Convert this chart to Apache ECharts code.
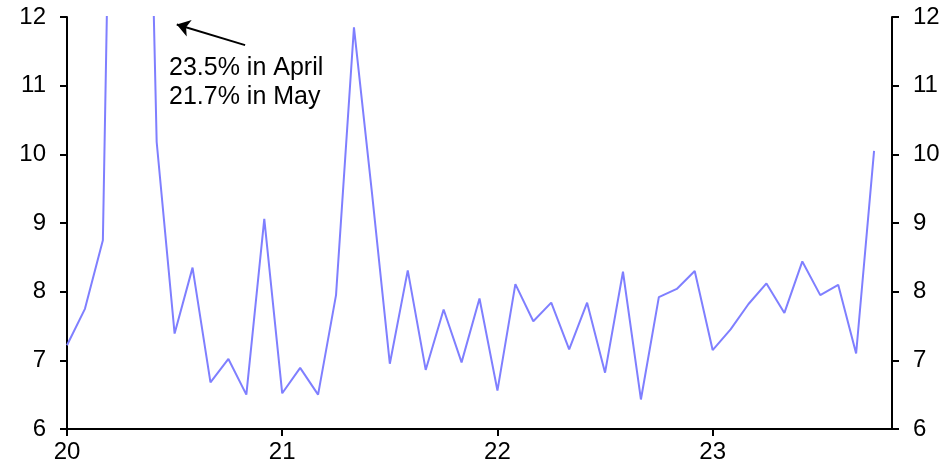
<!DOCTYPE html>
<html><head><meta charset="utf-8">
<script src="https://cdn.jsdelivr.net/npm/echarts@6/dist/echarts.min.js"></script>
<style>html,body{margin:0;padding:0;background:#fff}#c{width:949px;height:471px}</style>
</head><body><div id="c"></div>
<script>
// Monthly series, Jan 2020 .. Oct 2023
const months = [
  'Jan 20','Feb 20','Mar 20','Apr 20','May 20','Jun 20','Jul 20','Aug 20','Sep 20','Oct 20','Nov 20','Dec 20',
  'Jan 21','Feb 21','Mar 21','Apr 21','May 21','Jun 21','Jul 21','Aug 21','Sep 21','Oct 21','Nov 21','Dec 21',
  'Jan 22','Feb 22','Mar 22','Apr 22','May 22','Jun 22','Jul 22','Aug 22','Sep 22','Oct 22','Nov 22','Dec 22',
  'Jan 23','Feb 23','Mar 23','Apr 23','May 23','Jun 23','Jul 23','Aug 23','Sep 23','Oct 23'
];
const values = [
  7.22, 7.75, 8.75, 23.5, 21.7, 10.18, 7.39, 8.35, 6.68, 7.02, 6.50, 9.06,
  6.52, 6.89, 6.50, 7.95, 11.85, 9.45, 6.95, 8.31, 6.86, 7.74, 6.97, 7.90,
  6.56, 8.11, 7.57, 7.84, 7.16, 7.84, 6.82, 8.29, 6.43, 7.92, 8.04, 8.30,
  7.15, 7.45, 7.82, 8.12, 7.69, 8.44, 7.95, 8.10, 7.10, 10.05
];
const yearLabels = ['20', '21', '22', '23'];
const yearStarts = [0, 12, 24, 36];
const xMax = 46;
const yMin = 6, yMax = 12;
const annotationLines = ['23.5% in April', '21.7% in May'];
const arrowFrom = [9.93, 11.59];
const arrowTo = [6.12, 11.89];

const FONT = '"Liberation Sans", Arial, Helvetica, sans-serif';
const chart = echarts.init(document.getElementById('c'), null, {renderer: 'canvas'});
const axisLineStyle = {color: '#000', width: 2};
const yAxisBase = {
  type: 'value', min: yMin, max: yMax, interval: 1,
  axisLine: {show: true, lineStyle: axisLineStyle},
  axisTick: {show: true, length: 7, lineStyle: axisLineStyle},
  splitLine: {show: false},
  axisLabel: {color: '#000', fontSize: 24, fontFamily: FONT, margin: 21}
};
chart.setOption({
  animation: false,
  backgroundColor: '#fff',
  grid: {left: 67, right: 57, top: 17, bottom: 42, containLabel: false},
  xAxis: {
    type: 'value', min: 0, max: xMax,
    axisLine: {show: true, onZero: false, lineStyle: axisLineStyle},
    axisTick: {show: true, length: 7, lineStyle: axisLineStyle, customValues: yearStarts},
    splitLine: {show: false},
    axisLabel: {
      color: '#000', fontSize: 24, fontFamily: FONT, margin: 11,
      customValues: yearStarts,
      formatter: v => yearLabels[yearStarts.indexOf(v)] || ''
    }
  },
  yAxis: [
    Object.assign({}, yAxisBase, {position: 'left'}),
    Object.assign({}, yAxisBase, {position: 'right'})
  ],
  graphic: [{
    type: 'text', left: 169, top: 54,
    style: {text: annotationLines.join('\n'), font: '25px ' + FONT, fill: '#000', lineHeight: 29}
  }],
  series: [{
    type: 'line',
    name: 'series',
    data: values.map((v, i) => [i, v]),
    showSymbol: false,
    clip: true,
    lineStyle: {color: '#7f7fff', width: 2},
    markLine: {
      silent: true,
      symbol: ['none', 'arrow'],
      symbolSize: 13,
      label: {show: false},
      lineStyle: {color: '#000', width: 2, type: 'solid'},
      data: [[{coord: arrowFrom}, {coord: arrowTo}]]
    }
  }]
});
</script>
</body></html>
